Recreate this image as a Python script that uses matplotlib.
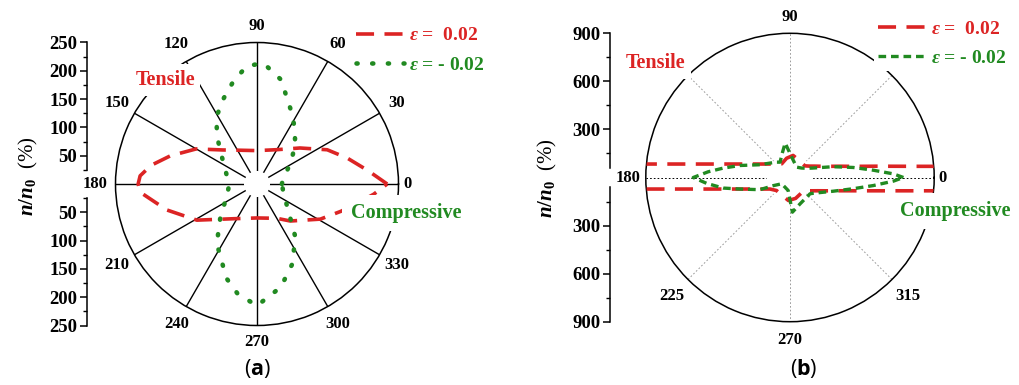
import numpy as np
import matplotlib
matplotlib.use('Agg')
import matplotlib.pyplot as plt
from matplotlib.lines import Line2D
from matplotlib.ticker import FixedLocator
from matplotlib.font_manager import FontProperties

plt.rcParams['mathtext.fontset'] = 'custom'
plt.rcParams['mathtext.it'] = 'Liberation Serif:italic:bold'
plt.rcParams['mathtext.rm'] = 'Liberation Serif:bold'
plt.rcParams['mathtext.bf'] = 'Open Sans:bold'
plt.rcParams['lines.scale_dashes'] = False

# ---------------- data (angles in degrees, n/n0 in %) ----------------
red_a_theta = [0, 7, 16, 26, 40, 60, 90, 120, 135, 150, 162, 170, 176, 180,
               184, 196, 211, 236, 270, 300, 312, 331, 342, 349, 355, 360]
red_a_r = [230, 197, 166, 138, 99, 70, 59, 69, 85, 124, 161, 190, 207, 210,
           207, 166, 124, 74, 60, 70, 88, 128, 156, 180, 207, 230]

green_a_theta = [0, 5, 18, 32, 45, 55, 64, 77, 87, 95, 103, 111, 121, 130, 142,
                 156, 170, 185, 200, 222, 236, 252, 260, 270, 283, 294, 306, 323, 340, 360]
green_a_r = [44, 45, 52, 70, 95, 117, 140, 189, 214, 209, 186, 163, 139, 110, 79,
             61, 53, 50, 56, 87, 127, 175, 197, 215, 187, 154, 115, 67, 50, 44]

red_b_theta = [0, 2.5, 5, 7.5, 10, 12.5, 15, 20, 25, 30, 38, 62, 82, 100, 121, 130,
               140, 150, 160, 165, 170, 172.5, 175, 177.5, 180, 182.5, 185, 187.5,
               190, 192.5, 195, 200, 210, 224, 247, 266, 285, 306, 315, 320, 330,
               335, 340, 345, 350, 352.5, 355, 357.5, 360]
red_b_r = [2000, 1600, 800, 540, 400, 325, 270, 205, 168, 142, 118, 121, 139, 122,
           100, 110, 131, 168, 246, 325, 484, 644, 964, 1900, 2000, 1650, 826, 552,
           415, 333, 278, 211, 144, 117, 122, 144, 135, 120, 117, 129, 166, 196,
           243, 320, 478, 636, 952, 1900, 2000]

green_b_theta = [0, 2, 5, 9, 14, 23, 30, 40, 57, 70, 85, 98, 107, 123, 131, 145,
                 157, 166.5, 172, 176, 180, 184, 189, 193, 202, 206, 217, 240, 262,
                 274, 291, 305, 321, 326, 342.5, 350, 354.5, 358, 360]
green_b_r = [708, 646, 522, 400, 279, 150, 115, 92, 77, 91, 127, 217, 162, 114, 127,
             156, 204, 321, 421, 512, 604, 522, 422, 320, 203, 116, 65, 67, 82,
             217, 176, 163, 161, 176, 284, 402, 523, 646, 708]

a_scale_ticks = [50, 100, 150, 200, 250]
a_scale_minor = [25, 75, 125, 175, 225]
b_scale_ticks = [300, 600, 900]
b_scale_minor = [150, 450, 750]
a_theta_labels = [0, 30, 60, 90, 120, 150, 180, 210, 240, 270, 300, 330]
b_theta_labels = [0, 90, 180, 225, 270, 315]
b_grid_angles = [0, 45, 90, 135, 180, 225, 270, 315]
legend_labels = [r"$\varepsilon$ =  0.02", r"$\varepsilon$ = - 0.02"]

# ---------------- style ----------------
RED = '#DC2424'
GREEN = '#218A21'
SERIF = 'Liberation Serif'
W, H = 1019, 385

fig = plt.figure(figsize=(W / 100, H / 100), dpi=100)


def fx(px):
    return px / W


def fy(py):
    return 1 - py / H


def polar_panel(cx, cy, R, rmax, hole):
    ax = fig.add_axes([fx(cx - R), fy(cy + R), 2 * R / W, 2 * R / H], projection='polar')
    ax.set_ylim(0, rmax)
    ax.set_yticks([])
    ax.set_axisbelow(True)
    ax.spines['polar'].set_linewidth(1.1)
    ax.set_facecolor('none')
    ax.bar(0, hole, width=2 * np.pi, bottom=0, color='white', zorder=1.2, linewidth=0)
    return ax


def theta_labels(ax, labels, rmax, off_default, special):
    for a in labels:
        off = special.get(a, off_default) * 0.72
        t = np.deg2rad(a)
        ax.annotate(str(a), xy=(t, rmax), xytext=(off * np.cos(t), off * np.sin(t)),
                    textcoords='offset points', ha='center', va='center',
                    fontsize=12, fontweight='bold', family=SERIF, annotation_clip=False)


def scale_axes(x_px, cy, R, rmax, lo, majors, minors):
    for up in (True, False):
        if up:
            rect = [fx(x_px), fy(cy), 0.0001, R / H]
        else:
            rect = [fx(x_px), fy(cy + R), 0.0001, R / H]
        a = fig.add_axes(rect)
        if up:
            a.set_ylim(0, rmax)
        else:
            a.set_ylim(rmax, 0)
        for s in ('top', 'right', 'bottom'):
            a.spines[s].set_visible(False)
        a.spines['left'].set_bounds(lo, rmax)
        a.spines['left'].set_linewidth(1.1)
        a.set_xticks([])
        a.set_yticks(majors)
        a.yaxis.set_minor_locator(FixedLocator(minors))
        a.set_yticklabels([str(v) for v in majors])
        for lab in a.get_yticklabels():
            lab.set_fontfamily(SERIF)
            lab.set_fontweight('bold')
            lab.set_fontsize(13.5)
        a.tick_params(which='major', length=5, width=1.1, pad=2)
        a.tick_params(which='minor', length=3, width=1.0)
        a.patch.set_visible(False)


# ---------------- panel (a) ----------------
axa = polar_panel(257, 184, 141.5, 250, 23)
axa.set_xticks(np.deg2rad(a_theta_labels))
axa.set_xticklabels([])
axa.xaxis.set_minor_locator(FixedLocator(np.deg2rad(np.array(a_theta_labels) + 15)))
axa.tick_params(axis='x', which='major', length=0)
axa.tick_params(axis='x', which='minor', direction='in', length=5, width=1)
axa.grid(True, axis='x', color='black', linewidth=1.0, linestyle='-')
axa.plot(np.deg2rad(red_a_theta), red_a_r, color=RED, lw=2.6,
         linestyle=(0, (13, 7.5)), zorder=3)
axa.plot(np.deg2rad(green_a_theta), green_a_r, color=GREEN, lw=3.3,
         linestyle=(0, (0.8, 10.5)), dash_capstyle='round', zorder=3)
theta_labels(axa, a_theta_labels, 250, 20, {0: 9, 90: 16, 270: 16})
scale_axes(87, 184, 141.5, 250, 25, a_scale_ticks, a_scale_minor)

# ---------------- panel (b) ----------------
axb = polar_panel(790, 177.5, 144.2, 900, 145)
axb.set_xticks(np.deg2rad(b_grid_angles))
axb.set_xticklabels([])
axb.xaxis.set_minor_locator(FixedLocator(np.deg2rad(np.array(b_grid_angles) + 22.5)))
axb.tick_params(axis='x', which='major', length=0)
axb.tick_params(axis='x', which='minor', direction='in', length=6, width=1)
axb.grid(True, axis='x', linewidth=0.7, linestyle=(0, (1.2, 1.5)))
for gl, ang in zip(axb.xaxis.get_gridlines(), b_grid_angles):
    gl.set_color('black' if ang in (0, 180) else '#9a9a9a')
axb.plot(np.deg2rad(red_b_theta), red_b_r, color=RED, lw=2.6,
         linestyle=(0, (13, 7.5)), zorder=3)
axb.plot(np.deg2rad(green_b_theta), green_b_r, color=GREEN, lw=2.4,
         linestyle=(0, (5.5, 3.5)), zorder=4)
theta_labels(axb, b_theta_labels, 900, 18, {0: 8, 90: 16, 225: 23, 315: 23})
scale_axes(610, 177.5, 144.2, 900, 60, b_scale_ticks, b_scale_minor)

# ---------------- annotations ----------------
box = dict(facecolor='white', edgecolor='none', pad=4)
txt = dict(family=SERIF, fontweight='bold', fontsize=14.5, ha='center', va='center', zorder=6)
fig.text(fx(165), fy(80), 'Tensile', color=RED, bbox=box, **txt)
fig.text(fx(406), fy(213), 'Compressive', color=GREEN, bbox=dict(box, pad=6), **txt)
fig.text(fx(656), fy(63), 'Tensile', color=RED, bbox=box, **txt)
fig.text(fx(955), fy(211), 'Compressive', color=GREEN, bbox=dict(box, pad=6), **txt)

ylab = r"$n/n_0$  (%)"
fig.text(fx(28), fy(176), ylab, rotation=90, family=SERIF, fontsize=15,
         ha='center', va='center')
fig.text(fx(547), fy(178), ylab, rotation=90, family=SERIF, fontsize=15,
         ha='center', va='center')

fig.text(fx(257), fy(369), r"($\mathbf{a}$)", family='Open Sans', fontsize=15.5,
         ha='center', va='center')
fig.text(fx(804), fy(369), r"($\mathbf{b}$)", family='Open Sans', fontsize=15.5,
         ha='center', va='center')

legprop = FontProperties(family=SERIF, weight='bold', size=14)


def add_legend(x_px, y_px, green_style, green_lw, green_cap):
    handles = [Line2D([], [], color=RED, lw=2.6, linestyle=(0, (13, 7.5))),
               Line2D([], [], color=GREEN, lw=green_lw, linestyle=green_style,
                      dash_capstyle=green_cap)]
    leg = fig.legend(handles, legend_labels, loc='upper left',
                     bbox_to_anchor=(fx(x_px), fy(y_px)), prop=legprop,
                     frameon=True, fancybox=False, framealpha=1, edgecolor='none',
                     facecolor='white', handlelength=2.45, handletextpad=0.3,
                     labelspacing=0.6, borderpad=0.2, borderaxespad=0)
    for t, c in zip(leg.get_texts(), [RED, GREEN]):
        t.set_color(c)
    leg.set_zorder(7)


add_legend(352, 23, (0, (0.8, 10.5)), 3.3, 'round')
add_legend(874, 16, (0, (5.5, 3.5)), 2.4, 'butt')

fig.savefig('out.png', dpi=100)
